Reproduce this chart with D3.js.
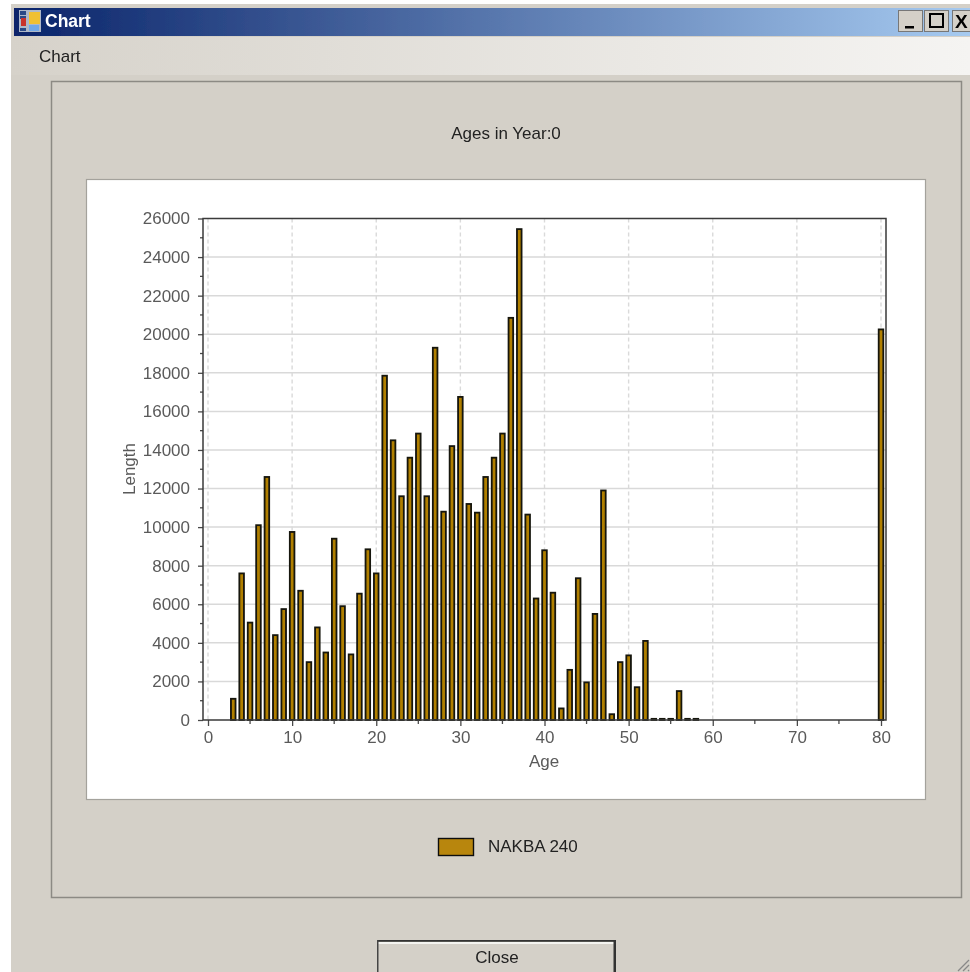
<!DOCTYPE html>
<html><head><meta charset="utf-8"><script src="https://cdn.jsdelivr.net/npm/d3@7"></script>
<style>html,body{margin:0;padding:0;background:#fff;overflow:hidden}svg{display:block}text{font-family:"Liberation Sans",Arial,sans-serif}</style></head>
<body><svg id="c" width="970" height="972"></svg>
<script>
const ages=[3,4,5,6,7,8,9,10,11,12,13,14,15,16,17,18,19,20,21,22,23,24,25,26,27,28,29,30,31,32,33,34,35,36,37,38,39,40,41,42,43,44,45,46,47,48,49,50,51,52,53,54,55,56,57,58,80];
const lengths=[1100,7600,5050,10100,12600,4400,5750,9750,6700,3000,4800,3500,9400,5900,3400,6550,8850,7600,17850,14500,11600,13600,14850,11600,19300,10800,14200,16750,11200,10750,12600,13600,14850,20850,25450,10650,6300,8800,6600,600,2600,7350,1950,5500,11900,300,3000,3350,1700,4100,60,60,60,1500,60,60,20250];
const xTicks=[0,10,20,30,40,50,60,70,80];
const xMinor=[5,15,25,35,45,55,65,75];
const yTicks=d3.range(0,26001,2000);
const yMinor=d3.range(1000,26000,2000);
const seriesName="NAKBA 240", titleText="Ages in Year:0", xName="Age", yName="Length";

const svg=d3.select("#c");
const defs=svg.append("defs");
const tg=defs.append("linearGradient").attr("id","tb");
tg.append("stop").attr("offset","0").attr("stop-color","#0a246a");
tg.append("stop").attr("offset","1").attr("stop-color","#a6caf0");
const mg=defs.append("linearGradient").attr("id","mb");
mg.append("stop").attr("offset","0").attr("stop-color","#d6d2ca");
mg.append("stop").attr("offset","1").attr("stop-color","#f5f4f2");
defs.append("filter").attr("id","soft").append("feGaussianBlur").attr("stdDeviation",0.4);

const rect=(p,x,y,w,h,f,s,sw)=>p.append("rect").attr("x",x).attr("y",y).attr("width",w).attr("height",h).attr("fill",f||"none").attr("stroke",s||"none").attr("stroke-width",sw||0);
const root=svg.append("g").attr("filter","url(#soft)");
// window frame
rect(root,11,4,959,968,"#d4d0c8");
rect(root,14,8,956,28,"url(#tb)");
rect(root,11,37,959,38,"url(#mb)");
// icon
rect(root,19,10,22,22,"#aeb8c8");
rect(root,20,11,6,4,"#2c4a86");rect(root,20,16,6,3,"#2c4a86");
rect(root,21,18,5,8,"#c8302a");
rect(root,20,28,6,3,"#2c4a86");
rect(root,29,12,11,12,"#f0c030");
rect(root,29,25,10,6,"#6fa8e8");
root.append("text").attr("x",45).attr("y",27).attr("fill","#fff").attr("font-size",17.5).attr("font-weight","bold").text("Chart");
root.append("text").attr("x",39).attr("y",62).attr("fill","#222").attr("font-size",17).text("Chart");
// caption buttons
[898.5,924.5,952.5].forEach(x=>{rect(root,x,10.5,x>950?25:24,21,"#d4d0c8","#777",1);});
rect(root,905,26,9,2.5,"#000");
rect(root,930,14,13,13,"none","#000",2);
root.append("text").attr("x",955).attr("y",28).attr("font-size",19).attr("font-weight","bold").attr("fill","#000").text("X");
// group frame
rect(root,51.5,81.5,910,816,"none","#8c8a84",1.5);
// white plot panel
rect(root,86.5,179.5,839,620,"#fff","#a4a29c",1.2);
root.append("text").attr("x",506).attr("y",139).attr("text-anchor","middle").attr("font-size",17).attr("fill","#222").text(titleText);

const x=d3.scaleLinear().domain([0,80]).range([208,881]);
const y=d3.scaleLinear().domain([0,26000]).range([720,218.5]);
const L=203,R=886,T=218.5,B=720;
const g=root.append("g");
g.selectAll(".gy").data(yTicks.filter(d=>d>0&&d<26000)).join("line").attr("x1",L).attr("x2",R).attr("y1",d=>y(d)).attr("y2",d=>y(d)).attr("stroke","#d9d9d9").attr("stroke-width",1.5);
g.selectAll(".gx").data(xTicks).join("line").attr("x1",d=>x(d)).attr("x2",d=>x(d)).attr("y1",T).attr("y2",B).attr("stroke","#dadada").attr("stroke-width",1.4).attr("stroke-dasharray","4 3");
// bars
const pts=d3.zip(ages,lengths);
g.selectAll(".bar").data(pts).join("rect").attr("x",d=>x(d[0])-2.3).attr("width",4.6).attr("y",d=>y(d[1])).attr("height",d=>Math.max(0,B-y(d[1]))).attr("fill","#b07f00").attr("stroke","#14140c").attr("stroke-width",1.8);
// axes
const ink="#4a4a4a", tickInk="#5a5a5a";
const ax=d3.axisBottom(x).tickValues(xTicks).tickSize(6).tickPadding(5);
const ay=d3.axisLeft(y).tickValues(yTicks).tickSize(5).tickPadding(8).tickFormat(d3.format("d"));
const gx=g.append("g").attr("transform",`translate(0,${B})`).call(ax);
const gy=g.append("g").attr("transform",`translate(${L},0)`).call(ay);
[gx,gy].forEach(a=>{a.select(".domain").remove();a.selectAll("line").attr("stroke",ink).attr("stroke-width",1.3);a.selectAll("text").attr("font-size",17).attr("fill",tickInk).attr("font-family",'"Liberation Sans",Arial,sans-serif');});
g.selectAll(".mx").data(xMinor).join("line").attr("x1",d=>x(d)).attr("x2",d=>x(d)).attr("y1",B).attr("y2",B+4).attr("stroke",ink).attr("stroke-width",1.3);
g.selectAll(".my").data(yMinor).join("line").attr("x1",L-3).attr("x2",L).attr("y1",d=>y(d)).attr("y2",d=>y(d)).attr("stroke",ink).attr("stroke-width",1.3);
rect(g,L,T,R-L,B-T,"none","#3a3a3a",1.5);
root.append("text").attr("x",544).attr("y",767).attr("text-anchor","middle").attr("font-size",17).attr("fill",tickInk).text(xName);
root.append("text").attr("transform","translate(135,469) rotate(-90)").attr("text-anchor","middle").attr("font-size",17).attr("fill",tickInk).text(yName);
// legend
rect(root,438.5,838.5,35,17,"#b8860b","#111",1.4);
root.append("text").attr("x",488).attr("y",852).attr("font-size",17).attr("fill","#222").text(seriesName);
// close button
rect(root,377,940,239,32,"#d4d0c8");
rect(root,378,942,236,2,"#f4f4f0");
rect(root,377,940,239,1.8,"#333");
rect(root,377,940,1.5,32,"#444");
rect(root,613.5,940,2.5,32,"#333");
root.append("text").attr("x",497).attr("y",963).attr("text-anchor","middle").attr("font-size",17).attr("fill","#222").text("Close");
// grip
[0,5,10].forEach(o=>root.append("path").attr("d",`M${958+o} 971L969 ${960+o}`).attr("stroke","#888").attr("stroke-width",1.2));
</script></body></html>
